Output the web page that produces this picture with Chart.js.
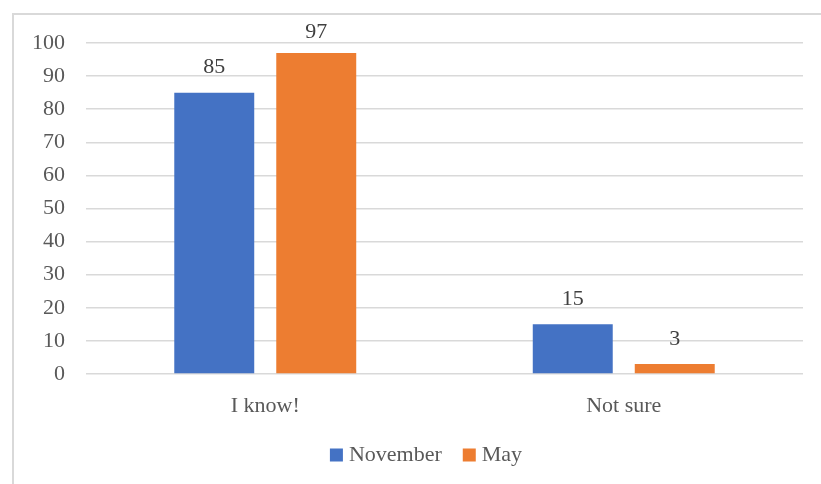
<!DOCTYPE html>
<html><head><meta charset="utf-8">
<script src="https://cdn.jsdelivr.net/npm/chart.js@4/dist/chart.umd.min.js"></script>
<style>
html,body{margin:0;padding:0;background:#fff;overflow:hidden;}
#frame{position:absolute;left:12px;top:13px;width:900px;height:600px;border:2px solid #d9d9d9;box-sizing:border-box;}
#wrap{position:absolute;left:0;top:0;width:821px;height:484px;}
</style></head>
<body>
<div id="frame"></div>
<div id="wrap"><canvas id="c" width="821" height="484"></canvas></div>
<script>
const categories = ["I know!", "Not sure"];
const seriesNames = ["November", "May"];
const november = [85, 15];
const may = [97, 3];
const yTicks = [0,10,20,30,40,50,60,70,80,90,100];

const FONT = "'Liberation Serif', 'Times New Roman', serif";
const TXT = '#595959';

const dataLabels = {
  id: 'dataLabels',
  afterDatasetsDraw(chart) {
    const ctx = chart.ctx;
    ctx.save();
    ctx.font = "22px " + FONT;
    ctx.fillStyle = '#404040';
    ctx.textAlign = 'center';
    ctx.textBaseline = 'middle';
    chart.data.datasets.forEach((ds, i) => {
      const meta = chart.getDatasetMeta(i);
      meta.data.forEach((bar, j) => {
        const y = Math.max(bar.y - 25, chart.chartArea.top - 11);
        ctx.fillText(String(ds.data[j]), bar.x, y);
      });
    });
    ctx.restore();
  }
};

const bottomLegend = {
  id: 'bottomLegend',
  afterDraw(chart) {
    const ctx = chart.ctx;
    ctx.save();
    ctx.font = "22px " + FONT;
    ctx.textBaseline = 'middle';
    ctx.textAlign = 'left';
    const box = 13, gap = 6, itemGap = 21;
    const items = chart.data.datasets.map(ds => ({text: ds.label, color: ds.backgroundColor, w: ctx.measureText(ds.label).width}));
    const total = items.reduce((a, it) => a + box + gap + it.w, 0) + itemGap * (items.length - 1);
    let x = 426 - total / 2;
    const cy = 455;
    items.forEach(it => {
      ctx.fillStyle = it.color;
      ctx.fillRect(x, cy - box / 2, box, box);
      x += box + gap;
      ctx.fillStyle = TXT;
      ctx.fillText(it.text, x, cy);
      x += it.w + itemGap;
    });
    ctx.restore();
  }
};

new Chart(document.getElementById('c'), {
  type: 'bar',
  data: {
    labels: categories,
    datasets: [
      {label: seriesNames[0], data: november, backgroundColor: '#4472C4'},
      {label: seriesNames[1], data: may, backgroundColor: '#ED7D31'}
    ]
  },
  options: {
    responsive: false,
    animation: false,
    devicePixelRatio: 1,
    layout: {padding: {top: 43, right: 18, bottom: 50, left: 0}},
    datasets: {bar: {categoryPercentage: 0.569, barPercentage: 0.784}},
    scales: {
      x: {
        grid: {display: false, drawTicks: false},
        border: {display: false},
        ticks: {color: TXT, font: {family: FONT, size: 22}, padding: 19},
        afterFit(s) { s.height = 60; }
      },
      y: {
        min: 0, max: 100,
        afterBuildTicks(s) { s.ticks = yTicks.map(v => ({value: v})); },
        grid: {color: '#d9d9d9', lineWidth: 1.5, drawTicks: false},
        border: {display: false},
        ticks: {color: TXT, font: {family: FONT, size: 22}, padding: 21},
        afterFit(s) { s.width = 86; }
      }
    },
    plugins: {
      legend: {display: false},
      tooltip: {enabled: false}
    }
  },
  plugins: [dataLabels, bottomLegend]
});
</script>
</body></html>
